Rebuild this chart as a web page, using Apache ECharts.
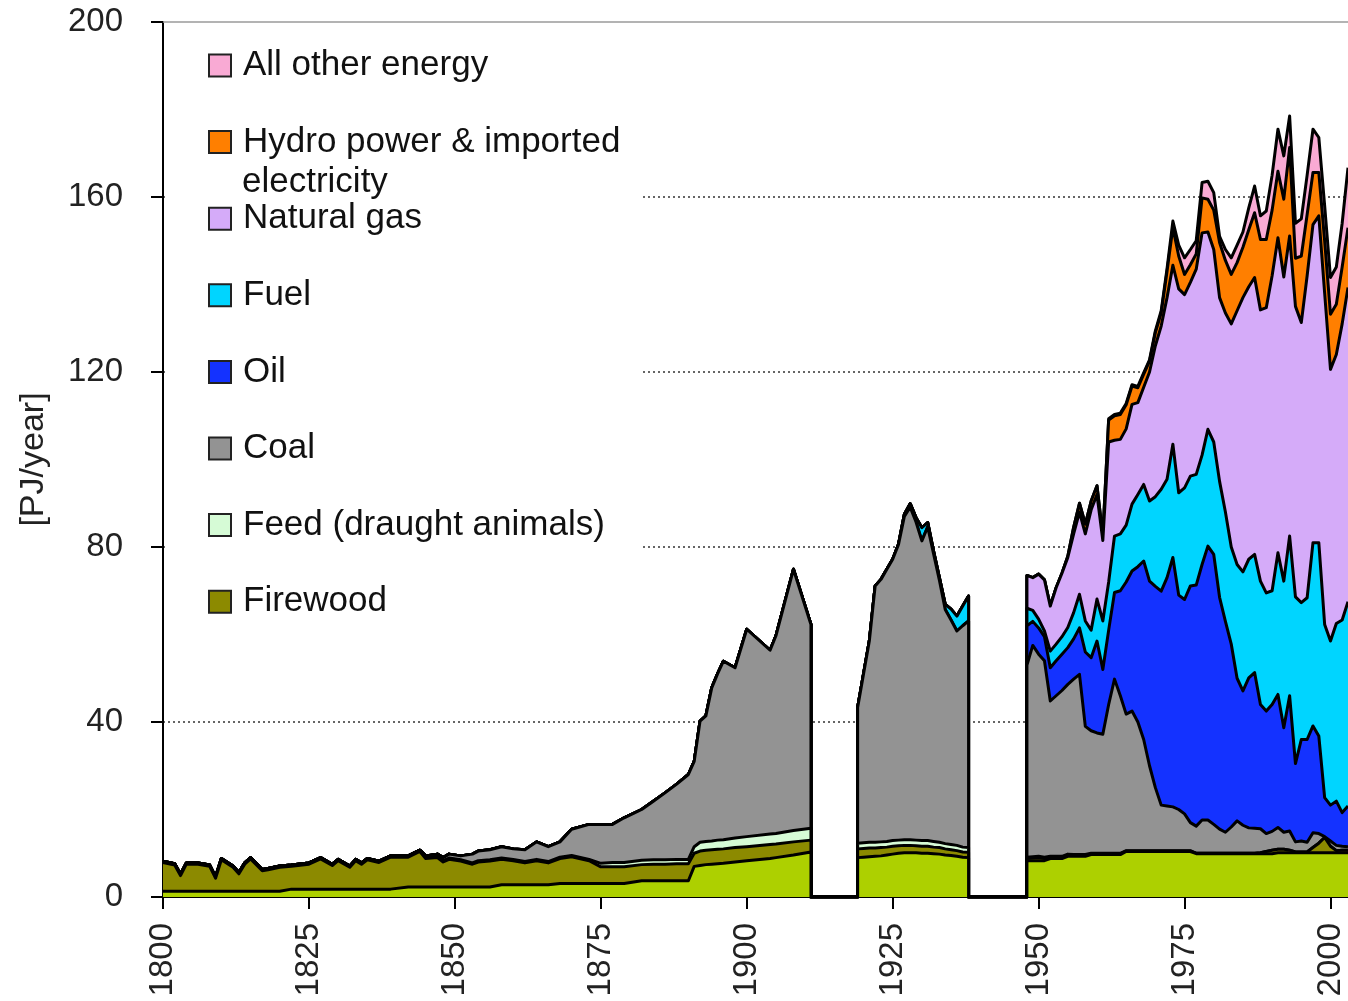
<!DOCTYPE html>
<html><head><meta charset="utf-8">
<script src="https://cdn.jsdelivr.net/npm/echarts@6/dist/echarts.min.js"></script>
<style>html,body{margin:0;padding:0;background:#fff;overflow:hidden}#chart{width:1348px;height:1001px}</style>
</head><body><div id="chart"></div>
<script>
// ---------- DATA (PJ/year) ----------
const years = [
  1800,1802,1803,1804,1806,1808,1809,1810,1812,1813,
  1814,1815,1817,1818,1820,1822,1825,1827,1829,1830,
  1832,1833,1834,1835,1837,1839,1842,1844,1845,1847,
  1848,1849,1851,1853,1854,1856,1858,1860,1862,1864,
  1866,1868,1870,1873,1875,1877,1879,1882,1884,1886,
  1888,1890,1891,1892,1893,1894,1895,1896,1898,1900,
  1904,1905,1908,1911,
  1919,1920,1921,1922,1923,1924,1925,1926,1927,1928,1929,1930,1931,1932,1933,1934,1935,1936,1937,1938,
  1948,1949,1950,1951,1952,1953,1954,1955,1956,1957,
  1958,1959,1960,1961,1962,1963,1964,1965,1966,1967,
  1968,1969,1970,1971,1972,1973,1974,1975,1976,1977,
  1978,1979,1980,1981,1982,1983,1984,1985,1986,1987,
  1988,1989,1990,1991,1992,1993,1994,1995,1996,1997,
  1998,1999,2000,2001,2002,2003
];
const food = [
  1.3,1.3,1.3,1.3,1.3,1.3,1.3,1.3,1.3,1.3,
  1.3,1.3,1.3,1.3,1.3,1.8,1.8,1.8,1.8,1.8,
  1.8,1.8,1.8,1.8,1.8,1.8,2.3,2.3,2.3,2.3,
  2.3,2.3,2.3,2.3,2.3,2.3,2.8,2.8,2.8,2.8,
  2.8,3.1,3.1,3.1,3.1,3.1,3.1,3.7,3.7,3.7,
  3.7,3.7,7.0,7.2,7.4,7.5,7.6,7.7,8.0,8.3,
  8.8,9.0,9.6,10.3,
  9.0,9.1,9.2,9.3,9.4,9.6,9.8,10.0,10.1,10.1,10.1,10.0,10.0,9.9,9.8,9.6,9.5,9.3,9.1,9.0,
  8.3,8.3,8.3,8.3,8.8,8.8,8.8,9.3,9.3,9.3,
  9.3,9.7,9.7,9.7,9.7,9.7,9.7,10.4,10.4,10.4,
  10.4,10.4,10.4,10.4,10.4,10.4,10.4,10.4,10.4,9.9,
  9.9,9.9,9.9,9.9,9.9,9.9,9.9,9.9,9.9,9.9,
  9.9,9.9,9.9,10.1,10.1,10.1,10.1,10.1,10.1,10.1,
  10.1,10.1,10.1,10.1,10.1,10.1
];
const firewood = [
  6.6,6.0,3.6,6.2,6.2,5.7,3.0,7.2,5.5,4.0,
  6.2,7.4,4.7,4.9,5.5,5.2,5.7,6.9,5.4,6.5,
  5.0,6.5,5.7,6.7,6.1,7.3,6.8,8.1,6.5,6.7,
  5.7,6.3,5.9,5.2,5.7,5.9,5.8,5.5,5.0,5.5,
  5.0,5.7,6.1,5.2,3.8,3.8,3.8,3.7,3.8,3.8,
  3.9,3.9,3.0,3.3,3.3,3.3,3.3,3.3,3.3,3.2,
  3.2,3.1,3.0,2.7,
  2.0,2.0,2.0,1.9,1.9,1.8,1.8,1.7,1.7,1.7,1.6,1.6,1.6,1.5,1.5,1.4,1.3,1.3,1.2,1.2,
  0.5,0.6,0.7,0.5,0.3,0.3,0.3,0.3,0.2,0.2,
  0.2,0.2,0.2,0.2,0.2,0.2,0.2,0.1,0.1,0.1,
  0.1,0.1,0.1,0.1,0.1,0.1,0.1,0.1,0.1,0.1,
  0.1,0.1,0.1,0.1,0.1,0.1,0.1,0.1,0.1,0.1,
  0.2,0.5,0.8,0.8,0.8,0.6,0.2,0.2,0.2,1.2,
  2.2,3.5,1.5,0.5,0.6,0.6
];
const feed = [
  0.3,0.3,0.3,0.3,0.3,0.3,0.3,0.3,0.3,0.3,
  0.3,0.3,0.3,0.3,0.3,0.3,0.3,0.3,0.3,0.3,
  0.3,0.3,0.3,0.3,0.3,0.3,0.3,0.3,0.3,0.3,
  0.3,0.3,0.3,0.3,0.3,0.3,0.3,0.3,0.3,0.3,
  0.3,0.3,0.3,0.3,0.8,1.0,1.0,1.0,1.0,1.0,
  1.0,1.0,1.5,2.0,2.0,2.0,2.1,2.1,2.2,2.3,
  2.4,2.4,2.6,2.7,
  1.3,1.3,1.3,1.3,1.3,1.3,1.3,1.3,1.3,1.3,1.3,1.3,1.3,1.3,1.2,1.2,1.2,1.2,1.1,1.1,
  0.3,0.3,0.3,0.3,0.2,0.2,0.2,0.2,0.2,0.2,
  0.2,0.1,0.1,0.1,0.1,0.1,0.1,0.1,0.1,0.1,
  0.1,0.1,0.1,0.1,0.1,0.1,0.1,0.1,0.1,0,
  0,0,0,0,0,0,0,0,0,0,
  0,0,0,0,0,0,0,0,0,0,
  0,0,0,0,0,0
];
const coal = [
  0,0,0,0,0,0,0,0,0,0,
  0,0,0,0,0,0,0,0,0,0,
  0,0,0,0,0,0,0,0,0.3,0.5,
  0.7,0.9,0.9,2.0,2.2,2.3,2.6,2.4,2.7,4.0,
  3.4,3.5,6.0,8.0,8.9,8.7,10.2,11.6,13.4,15.3,
  17.2,19.4,19.5,27.7,28.7,35.0,38.0,40.8,38.9,47.4,
  42.0,45.2,59.7,46.6,
  31.0,38.5,46.0,58.6,60.0,62.2,64.3,67.6,73.9,76.0,72.7,68.5,71.7,65.8,59.9,53.5,51.3,49.0,50.6,51.8,
  43.9,48.3,46.2,44.9,35.5,36.7,37.9,38.8,40.1,41.2,
  29.3,28.0,27.5,27.2,34.0,39.8,36.0,31.2,31.9,29.4,
  25.4,19.4,14.4,10.4,10.2,10.0,9.4,8.4,6.4,6.2,
  7.6,7.6,6.6,5.5,4.8,6.0,7.4,6.4,5.8,5.7,
  5.5,4.1,4.3,5.0,3.9,4.4,2.3,2.5,2.2,3.4,
  2.2,0.2,1.2,1.2,0.9,0.8
];
const oil = [
  0,0,0,0,0,0,0,0,0,0, 0,0,0,0,0,0,0,0,0,0, 0,0,0,0,0,0,0,0,0,0,
  0,0,0,0,0,0,0,0,0,0, 0,0,0,0,0,0,0,0,0,0, 0,0,0,0,0,0,0,0,0,0, 0,0,0,0,
  0,0,0,0,0,0,0,0,0,0,0,0,0,0,0,0,0,0,0,0,
  9.0,5.5,6.0,5.5,7.6,8.0,8.3,8.4,9.2,10.6,
  17.0,16.7,21.0,14.8,17.0,19.8,24.0,30.2,32.0,35.5,
  40.8,42.2,46.0,48.9,52.2,57.0,49.0,49.0,54.1,55.1,
  58.4,62.6,61.7,53.0,48.2,41.8,32.6,30.7,34.3,35.6,
  28.4,28.0,29.0,30.4,23.9,30.9,17.9,23.2,23.5,24.4,
  22.3,8.9,8.2,10.1,7.7,9.3
];
const fuel = [
  0,0,0,0,0,0,0,0,0,0, 0,0,0,0,0,0,0,0,0,0, 0,0,0,0,0,0,0,0,0,0,
  0,0,0,0,0,0,0,0,0,0, 0,0,0,0,0,0,0,0,0,0, 0,0,0,0,0,0,0,0,0,0, 0,0,0,0,
  0,0,0,0,0,0,0,0,0.5,0.8,1.0,3.0,1.0,0.6,0.6,1.2,2.5,3.4,4.5,5.7,
  4.0,2.5,2.0,1.3,3.8,3.8,4.0,4.6,6.0,7.7,
  7.1,6.3,9.6,11.1,11.0,12.9,13.0,13.0,15.3,16.5,
  17.5,18.3,20.5,23.3,22.5,25.9,23.4,25.5,25.1,25.3,
  25.0,26.7,25.7,26.5,25.0,22.2,26.0,27.2,27.1,27.0,
  28.2,27.0,26.0,32.4,33.5,36.5,38.1,31.3,32.4,41.9,
  44.2,39.6,37.5,40.6,44.0,46.7
];
const naturalGas = [
  0,0,0,0,0,0,0,0,0,0, 0,0,0,0,0,0,0,0,0,0, 0,0,0,0,0,0,0,0,0,0,
  0,0,0,0,0,0,0,0,0,0, 0,0,0,0,0,0,0,0,0,0, 0,0,0,0,0,0,0,0,0,0, 0,0,0,0,
  0,0,0,0,0,0,0,0,0,0,0,0,0,0,0,0,0,0,0,0,
  7.5,7.5,10.3,11.7,10.3,12.9,14.5,16.0,18.0,18.8,
  19.9,27.5,23.9,18.4,32.0,21.9,21.6,22.0,22.8,21.0,
  22.2,29.5,34.5,37.3,41.5,40.9,46.6,44.2,44.3,46.9,
  50.8,45.1,44.0,42.0,45.5,51.0,58.0,62.7,62.3,63.3,
  62.0,65.2,72.0,72.0,69.5,68.6,66.4,64.0,73.6,72.7,
  74.7,75.7,62.1,61.5,67.7,71.8
];
const hydro = [
  0,0,0,0,0,0,0,0,0,0, 0,0,0,0,0,0,0,0,0,0, 0,0,0,0,0,0,0,0,0,0,
  0,0,0,0,0,0,0,0,0,0, 0,0,0,0,0,0,0,0,0,0, 0,0,0,0,0,0,0,0,0,0, 0,0,0,0,
  0,0,0,0,0,0,0,0,0,0,0,0,0,0,0,0,0,0,0,0,
  0,0,0,0,0,0,0,0.3,1.5,2.0,
  2.2,2.0,2.0,1.0,5.0,5.6,5.7,5.5,4.2,3.4,
  3.0,2.5,3.0,3.0,6.0,8.6,7.5,4.6,4.0,3.5,
  8.0,7.5,9.0,12.6,12.0,11.3,11.0,11.5,13.0,14.8,
  16.1,15.6,15.0,15.2,17.8,20.2,11.0,15.2,14.0,11.9,
  9.9,12.0,12.6,11.5,13.0,13.7
];
const otherEnergy = [
  0,0,0,0,0,0,0,0,0,0, 0,0,0,0,0,0,0,0,0,0, 0,0,0,0,0,0,0,0,0,0,
  0,0,0,0,0,0,0,0,0,0, 0,0,0,0,0,0,0,0,0,0, 0,0,0,0,0,0,0,0,0,0, 0,0,0,0,
  0,0,0,0,0,0,0,0,0,0,0,0,0,0,0,0,0,0,0,0,
  0,0,0,0,0,0,0,0,0,0,
  0,0,0,0,0.3,0.3,0.3,0.3,0.3,0.3,
  0.3,0.3,0.4,0.5,0.6,1.5,2.5,3.8,3.5,3.0,
  3.5,4.1,4.0,1.4,2.5,3.8,4.0,3.5,5.0,6.1,
  5.4,6.5,8.0,9.6,9.9,7.2,8.0,8.5,9.0,9.9,
  8.0,8.0,8.4,8.5,10.0,13.7
];
const xTicks = [1800,1825,1850,1875,1900,1925,1950,1975,2000];
const legendOrder = ['All other energy','Hydro power & imported electricity','Natural gas','Fuel','Oil','Coal','Feed (draught animals)','Firewood'];

// ---------- CHART ----------
const FONT = "'Liberation Sans', Arial, sans-serif";
const HYDRO = 'Hydro power & imported electricity';
const layers = [
  {name:'Food', vals:food, color:'#add000'},
  {name:'Firewood', vals:firewood, color:'#8c8a00'},
  {name:'Feed (draught animals)', vals:feed, color:'#d6fbd6'},
  {name:'Coal', vals:coal, color:'#939393'},
  {name:'Oil', vals:oil, color:'#1432ff'},
  {name:'Fuel', vals:fuel, color:'#00d5ff'},
  {name:'Natural gas', vals:naturalGas, color:'#d5abf9'},
  {name:HYDRO, vals:hydro, color:'#ff7f00'},
  {name:'All other energy', vals:otherEnergy, color:'#f9aad4'}
];
// data rows [value, year]; periods without data close down to zero
function build(vals){
  const out = [];
  for (let i = 0; i < years.length; i++) {
    out.push([vals[i], years[i]]);
    if (i < years.length - 1 && years[i+1] - years[i] > 5) {
      out.push([0, years[i]]);
      out.push([0, years[i+1]]);
    }
  }
  return out;
}
const series = layers.map((l, i) => ({
  type:'line', name:l.name, stack:'total',
  data: build(l.vals), encode:{x:1, y:0},
  symbol:'none', showSymbol:false, smooth:false,
  color:l.color,
  lineStyle:{color:'#000', width:3, join:'round'},
  areaStyle:{color:l.color, opacity:1},
  z: 20 - i,
  emphasis:{disabled:true}, silent:true
}));

const chart = echarts.init(document.getElementById('chart'), null, {renderer:'canvas', width:1348, height:1001});
chart.setOption({
  animation:false,
  backgroundColor:'#fff',
  textStyle:{fontFamily:FONT},
  grid:{left:163, right:0, top:22, bottom:104, containLabel:false, outerBoundsMode:'none'},
  xAxis:[{
    type:'value', min:1800, max:2003, interval:25,
    axisLine:{show:true, lineStyle:{color:'#000', width:2}},
    axisTick:{show:true, length:12, lineStyle:{color:'#000', width:2}, customValues:xTicks},
    axisLabel:{rotate:90, fontSize:33, color:'#222', margin:26, fontFamily:FONT, customValues:xTicks,
      formatter: v => String(v)},
    splitLine:{show:false}
  },{
    type:'value', position:'top', min:1800, max:2003,
    axisLine:{show:true, lineStyle:{color:'#9a9a9a', width:1.5}},
    axisTick:{show:false}, axisLabel:{show:false}, splitLine:{show:false}
  }],
  yAxis:{
    type:'value', min:0, max:200, interval:40,
    name:'[PJ/year]', nameLocation:'middle', nameGap:112,
    nameTextStyle:{fontSize:34, color:'#222', fontFamily:FONT},
    axisLine:{show:true, lineStyle:{color:'#000', width:2}},
    axisTick:{show:true, length:12, lineStyle:{color:'#000', width:2}},
    axisLabel:{fontSize:33, color:'#222', margin:40, fontFamily:FONT, formatter: v => String(v)},
    splitLine:{show:true, lineStyle:{type:[2,3], width:1.5, color:['transparent','#333','#333','#333','#333','transparent']}}
  },
  legend:{
    orient:'vertical', left:167, top:32, z:30,
    padding:[16,22,25,41], backgroundColor:'#fff',
    itemWidth:22, itemHeight:22, itemGap:41.6,
    icon:'rect', itemStyle:{borderColor:'#222', borderWidth:2},
    selectedMode:false,
    textStyle:{fontSize:35, color:'#111', fontFamily:FONT, padding:[0,0,0,7]},
    formatter: n => n === HYDRO ? 'Hydro power & imported' : n,
    data: legendOrder
  },
  graphic:[{type:'text', x:242, y:182, z:40,
    style:{text:'electricity', fontSize:35, fontFamily:FONT, fill:'#111', verticalAlign:'middle', align:'left'}}],
  series
});
</script></body></html>
